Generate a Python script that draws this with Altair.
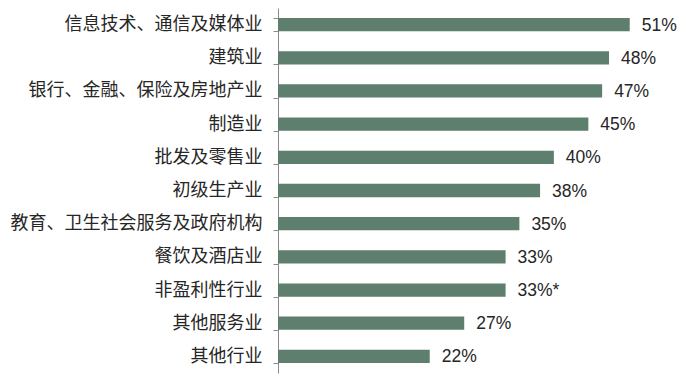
import altair as alt
import pandas as pd

categories = [
    "信息技术、通信及媒体业",
    "建筑业",
    "银行、金融、保险及房地产业",
    "制造业",
    "批发及零售业",
    "初级生产业",
    "教育、卫生社会服务及政府机构",
    "餐饮及酒店业",
    "非盈利性行业",
    "其他服务业",
    "其他行业",
]
values = [51, 48, 47, 45, 40, 38, 35, 33, 33, 27, 22]
labels = ["51%", "48%", "47%", "45%", "40%", "38%", "35%", "33%", "33%*", "27%", "22%"]

df = pd.DataFrame({"cat": categories, "val": values, "lab": labels})

y_enc = alt.Y(
    "cat:N",
    sort=categories,
    title=None,
    scale=alt.Scale(paddingInner=0.6, paddingOuter=0.3),
    axis=alt.Axis(
        domainColor="#8a8a8a",
        tickColor="#8a8a8a",
        tickSize=5,
        tickBand="extent",
        labelPadding=11,
        labelFont="Noto Sans CJK SC",
        labelFontSize=18,
        labelColor="#262626",
        labelLimit=400,
        grid=False,
    ),
)
x_enc = alt.X("val:Q", title=None, axis=None, scale=alt.Scale(domain=[0, 58], nice=False))

bars = alt.Chart(df).mark_bar(color="#5E7E6E").encode(x=x_enc, y=y_enc)
text = alt.Chart(df).mark_text(
    align="left", baseline="middle", dx=12, dy=1,
    font="Liberation Sans", fontSize=17.5, color="#262626"
).encode(x=x_enc, y=y_enc, text="lab:N")

chart = (bars + text).properties(
    width=400,
    height=365,
    autosize=alt.AutoSizeParams(type="none"),
    padding={"left": 270, "top": 0, "right": 6, "bottom": 5},
).configure_view(stroke=None)

chart.save("out.html", embed_options={"renderer": "svg", "actions": False})
